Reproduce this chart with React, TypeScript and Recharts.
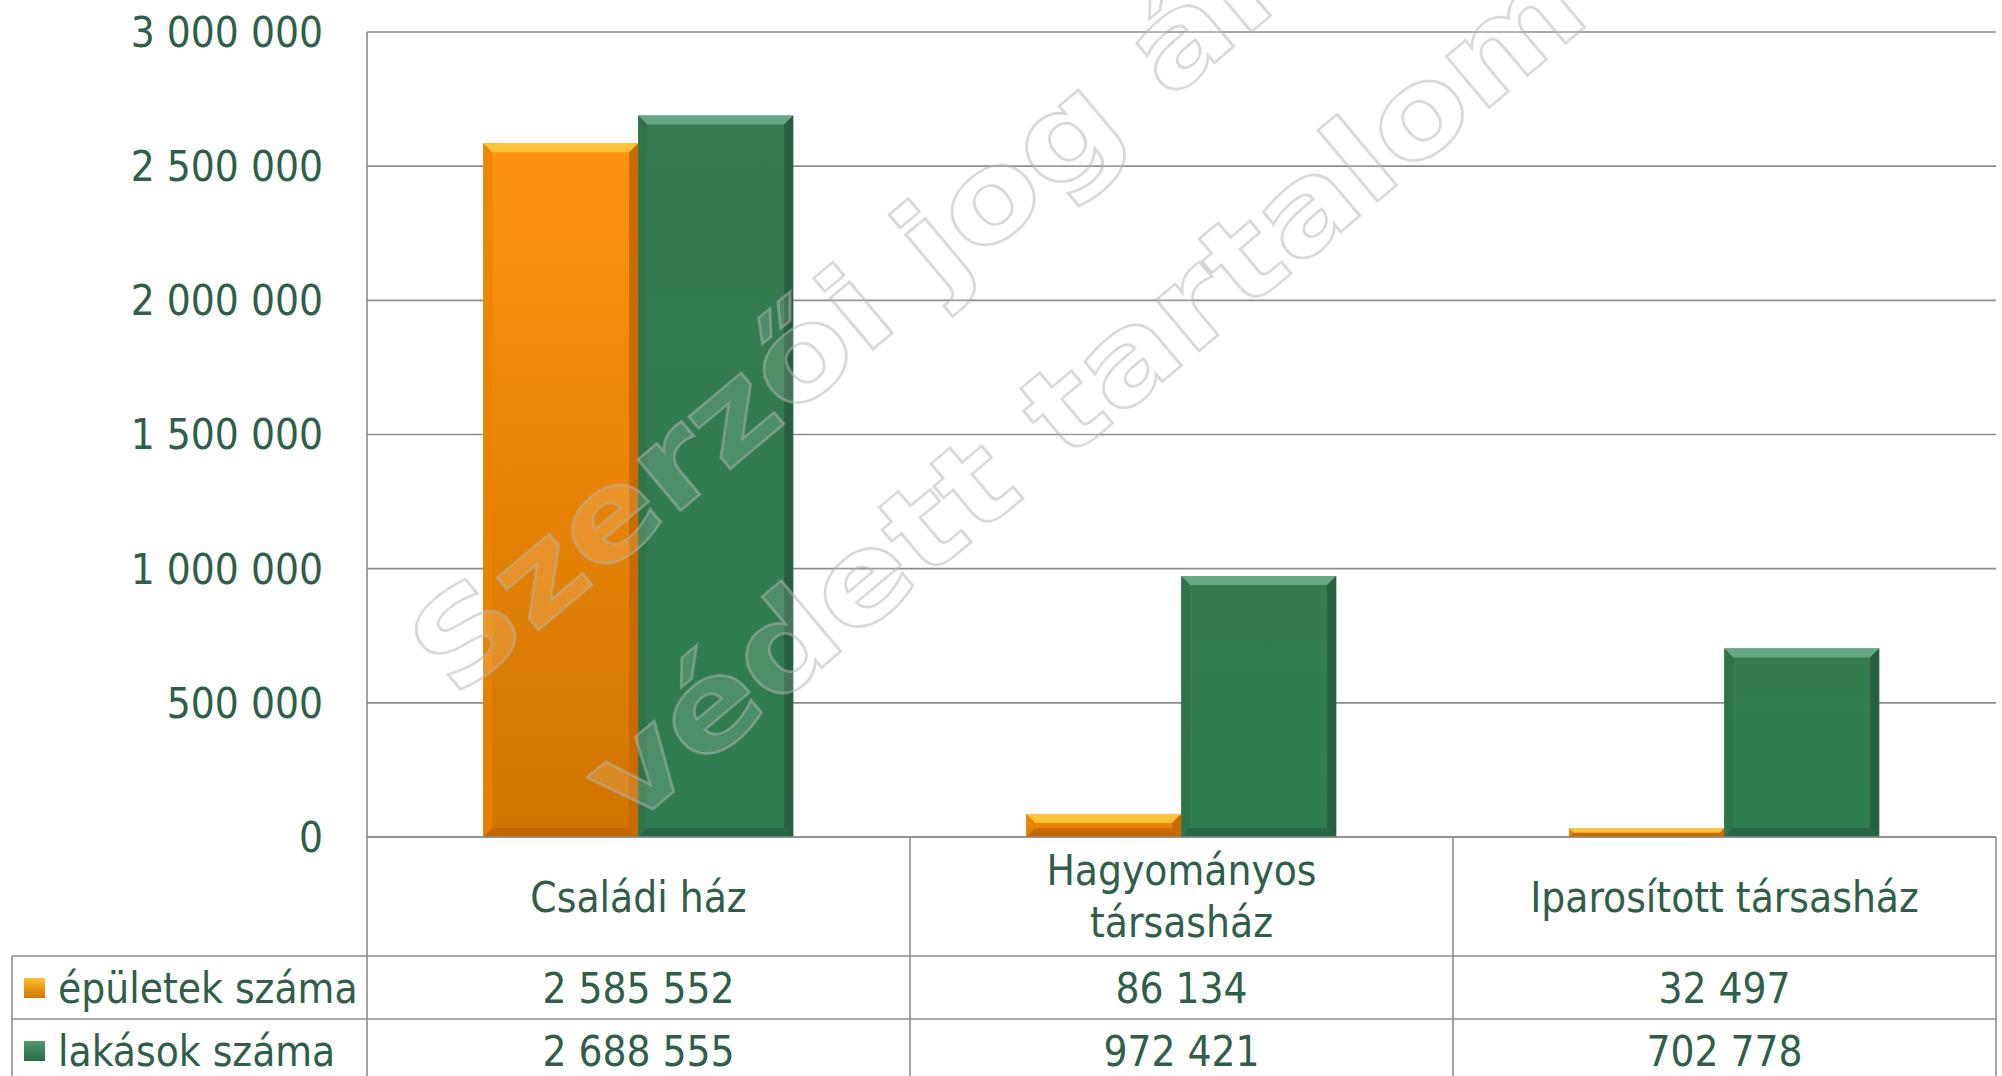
import React from "react";
import { BarChart, Bar, XAxis, YAxis, CartesianGrid } from "recharts";

// ---- data ----
const categories = ["Családi ház", "Hagyományos társasház", "Iparosított társasház"];
const categoryLabelLines = [["Családi ház"], ["Hagyományos", "társasház"], ["Iparosított társasház"]];
const seriesNames = ["épületek száma", "lakások száma"];
const epuletekSzama = [2585552, 86134, 32497];
const lakasokSzama = [2688555, 972421, 702778];
const yTicks = [0, 500000, 1000000, 1500000, 2000000, 2500000, 3000000];

const data = categories.map((name, i) => ({
  name,
  epuletek: epuletekSzama[i],
  lakasok: lakasokSzama[i],
}));

// ---- styles ----
const FONT = "Tahoma, 'DejaVu Sans Condensed', 'DejaVu Sans', sans-serif";
const TEXT = "#2F5E4A";
const LINE = "#8C8C8C";
const FS = 42;

const fmt = (n: number) => String(n).replace(/\B(?=(\d{3})+(?!\d))/g, " ");

const BevelBar = (props: any) => {
  const { x, y, width, height, variant } = props;
  if (!width || height == null || height <= 0) return null;
  const b = Math.min(9, height / 2, width / 2);
  const isOrange = variant === "o";
  const grad = isOrange ? "url(#gOrange)" : "url(#gGreen)";
  const topC = isOrange ? "#FFC43A" : "#66A883";
  const rightC = isOrange ? "#C96A00" : "#285F42";
  const leftC = isOrange ? "#E88400" : "#2F7049";
  const bottomC = isOrange ? "#B85F00" : "#27573E";
  return (
    <g>
      <rect x={x} y={y} width={width} height={height} fill={grad} />
      <polygon points={`${x},${y} ${x + width},${y} ${x + width - b},${y + b} ${x + b},${y + b}`} fill={topC} />
      <polygon points={`${x},${y} ${x + b},${y + b} ${x + b},${y + height - b} ${x},${y + height}`} fill={leftC} opacity={0.8} />
      <polygon points={`${x + width},${y} ${x + width},${y + height} ${x + width - b},${y + height - b} ${x + width - b},${y + b}`} fill={rightC} />
      <polygon points={`${x},${y + height} ${x + width},${y + height} ${x + width - b},${y + height - b} ${x + b},${y + height - b}`} fill={bottomC} opacity={0.6} />
    </g>
  );
};

const TableTick = (props: any) => {
  const { x, y, payload, index } = props;
  const half = payload && typeof payload.offset === "number" && payload.offset > 0 ? payload.offset : 1629 / 6;
  const left = x - half;
  const right = x + half;
  const top = y;
  const row1 = top + 119;
  const row2 = top + 182;
  const bottom = top + 300;
  const i = typeof index === "number" ? index : categories.indexOf(payload.value);
  const lines = categoryLabelLines[i] || [String(payload.value)];
  const textProps = {
    fill: TEXT,
    fontFamily: FONT,
    fontSize: FS,
    textAnchor: "middle" as const,
    dominantBaseline: "central" as const,
  };
  return (
    <g>
      <line x1={right} y1={top} x2={right} y2={bottom} stroke={LINE} strokeWidth={1.6} />
      <line x1={left} y1={row1} x2={right} y2={row1} stroke={LINE} strokeWidth={1.6} />
      <line x1={left} y1={row2} x2={right} y2={row2} stroke={LINE} strokeWidth={1.6} />
      {lines.length === 1 ? (
        <text x={x} y={top + 60} {...textProps}>{lines[0]}</text>
      ) : (
        lines.map((l: string, k: number) => (
          <text key={k} x={x} y={top + 33 + k * 52} {...textProps}>{l}</text>
        ))
      )}
      <text x={x} y={top + 151} {...textProps}>{fmt(epuletekSzama[i])}</text>
      <text x={x} y={top + 214} {...textProps}>{fmt(lakasokSzama[i])}</text>
      {i === 0 && (
        <g>
          <line x1={left} y1={top} x2={left} y2={bottom} stroke={LINE} strokeWidth={1.6} />
          <line x1={12} y1={row1} x2={left} y2={row1} stroke={LINE} strokeWidth={1.6} />
          <line x1={12} y1={row2} x2={left} y2={row2} stroke={LINE} strokeWidth={1.6} />
          <line x1={12} y1={row1} x2={12} y2={bottom} stroke={LINE} strokeWidth={1.6} />
          <rect x={24} y={top + 151 - 10} width={21} height={20} fill="url(#gOrangeL)" />
          <rect x={24} y={top + 214 - 10} width={21} height={20} fill="url(#gGreenL)" />
          <text x={58} y={top + 151} fill={TEXT} fontFamily={FONT} fontSize={FS} dominantBaseline="central">{seriesNames[0]}</text>
          <text x={58} y={top + 214} fill={TEXT} fontFamily={FONT} fontSize={FS} dominantBaseline="central">{seriesNames[1]}</text>
        </g>
      )}
    </g>
  );
};

const Watermark = () => (
  <svg width={2002} height={1076} style={{ position: "absolute", left: 0, top: 0, pointerEvents: "none" }}>
    <g fontFamily="'DejaVu Sans', Verdana, sans-serif" fontWeight="bold" fontSize={122}>
      <text x={455} y={700} transform="rotate(-40 455 700)" textLength={1290} lengthAdjust="spacingAndGlyphs"
        fill="rgba(255,255,255,0.14)" stroke="rgba(180,180,180,0.5)" strokeWidth={2.5}>
        Szerzői jog által
      </text>
      <text x={628} y={830} transform="rotate(-40 628 830)" textLength={1260} lengthAdjust="spacingAndGlyphs"
        fill="rgba(255,255,255,0.14)" stroke="rgba(180,180,180,0.5)" strokeWidth={2.5}>
        védett tartalom
      </text>
    </g>
  </svg>
);

export default function App() {
  return (
    <div style={{ position: "absolute", left: 0, top: 0, width: 2002, height: 1076, background: "#fff" }}>
      <BarChart
        width={2002}
        height={1076}
        data={data}
        margin={{ top: 32, right: 6, bottom: 0, left: 0 }}
        barGap={0}
        barCategoryGap="21.4%"
      >
        <defs>
          <linearGradient id="gOrange" x1="0" y1="0" x2="0" y2="1">
            <stop offset="0%" stopColor="#FF930F" />
            <stop offset="100%" stopColor="#D07400" />
          </linearGradient>
          <linearGradient id="gGreen" x1="0" y1="0" x2="0" y2="1">
            <stop offset="0%" stopColor="#367B52" />
            <stop offset="100%" stopColor="#2F7D52" />
          </linearGradient>
          <linearGradient id="gOrangeL" x1="0" y1="0" x2="0" y2="1">
            <stop offset="0%" stopColor="#FFC030" />
            <stop offset="100%" stopColor="#D07400" />
          </linearGradient>
          <linearGradient id="gGreenL" x1="0" y1="0" x2="0" y2="1">
            <stop offset="0%" stopColor="#4E9A6E" />
            <stop offset="100%" stopColor="#2A6A46" />
          </linearGradient>
        </defs>
        <CartesianGrid horizontal vertical={false} stroke={LINE} strokeWidth={1.6} />
        <XAxis
          dataKey="name"
          height={239}
          interval={0}
          tickLine={false}
          tickSize={0}
          tickMargin={0}
          axisLine={{ stroke: LINE, strokeWidth: 1.6 }}
          tick={<TableTick />}
        />
        <YAxis
          width={367}
          domain={[0, 3000000]}
          ticks={yTicks}
          interval={0}
          tickLine={false}
          tickSize={0}
          tickMargin={44}
          axisLine={{ stroke: LINE, strokeWidth: 1.6 }}
          tickFormatter={fmt}
          tick={{ fill: TEXT, fontFamily: FONT, fontSize: FS }}
        />
        <Bar dataKey="epuletek" name={seriesNames[0]} isAnimationActive={false} shape={(p: any) => <BevelBar {...p} variant="o" />} />
        <Bar dataKey="lakasok" name={seriesNames[1]} isAnimationActive={false} shape={(p: any) => <BevelBar {...p} variant="g" />} />
      </BarChart>
      <Watermark />
    </div>
  );
}
